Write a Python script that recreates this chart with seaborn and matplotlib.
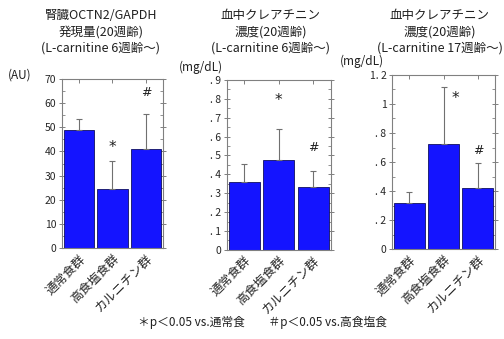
import matplotlib
matplotlib.use("Agg")
import matplotlib.pyplot as plt
import seaborn as sns
import numpy as np
import pandas as pd

sns.set_theme(style="white")
plt.rcParams['font.family'] = ['Noto Sans CJK JP', 'DejaVu Sans']

categories = ["通常食群", "高食塩食群", "カルニチン群"]

titles = [
    "腎臓OCTN2/GAPDH\n発現量(20週齢)\n(L-carnitine 6週齢～)",
    "血中クレアチニン\n濃度(20週齢)\n(L-carnitine 6週齢～)",
    "血中クレアチニン\n濃度(20週齢)\n(L-carnitine 17週齢～)",
]
units = ["(AU)", "(mg/dL)", "(mg/dL)"]

octn2_mean = [49.0, 24.5, 41.0]
octn2_err = [4.5, 11.5, 14.5]
crea6_mean = [0.36, 0.475, 0.335]
crea6_err = [0.095, 0.165, 0.085]
crea17_mean = [0.32, 0.725, 0.42]
crea17_err = [0.075, 0.39, 0.175]

star_labels = ["*", "#"]
octn2_marks = [41.5, 64.5]
crea6_marks = [0.79, 0.54]
crea17_marks = [1.04, 0.68]

octn2_ticks = [0, 10, 20, 30, 40, 50, 60, 70]
octn2_ticklabels = ["0", "10", "20", "30", "40", "50", "60", "70"]
crea6_ticks = [0, .1, .2, .3, .4, .5, .6, .7, .8, .9]
crea6_ticklabels = ["0", ". 1", ". 2", ". 3", ". 4", ". 5", ". 6", ". 7", ". 8", ". 9"]
crea17_ticks = [0, .2, .4, .6, .8, 1.0, 1.2]
crea17_ticklabels = ["0", ". 2", ". 4", ". 6", ". 8", "1", "1. 2"]

footnote = "＊p＜0.05 vs.通常食　　＃p＜0.05 vs.高食塩食"

panels = [
    dict(mean=octn2_mean, err=octn2_err, marks=octn2_marks, ticks=octn2_ticks,
         labels=octn2_ticklabels, ymax=70, minor=5, star_dx=0.0,
         pos=[0.123, 0.268, 0.200, 0.499], unit_xy=(0.015, 0.778), title_x=0.200),
    dict(mean=crea6_mean, err=crea6_err, marks=crea6_marks, ticks=crea6_ticks,
         labels=crea6_ticklabels, ymax=0.9, minor=0.05, star_dx=0.0,
         pos=[0.450, 0.263, 0.206, 0.501], unit_xy=(0.355, 0.800), title_x=0.537),
    dict(mean=crea17_mean, err=crea17_err, marks=crea17_marks, ticks=crea17_ticks,
         labels=crea17_ticklabels, ymax=1.2, minor=0.1, star_dx=0.35,
         pos=[0.778, 0.265, 0.204, 0.514], unit_xy=(0.674, 0.818), title_x=0.872),
]

fig = plt.figure(figsize=(5.04, 3.39), dpi=100)
bar_color = "#1414ff"
spine_color = "#808080"

for i, p in enumerate(panels):
    ax = fig.add_axes(p["pos"])
    df = pd.DataFrame({"group": categories, "value": p["mean"]})
    sns.barplot(data=df, x="group", y="value", ax=ax, color=bar_color,
                saturation=1, width=0.9, edgecolor="#101060", linewidth=0.6,
                errorbar=None)
    x = np.arange(len(categories))
    ax.errorbar(x, p["mean"], yerr=[np.zeros(3), p["err"]], fmt="none",
                ecolor="#707070", elinewidth=0.8, capsize=2, capthick=0.8, zorder=1)
    ax.text(1 + p["star_dx"], p["marks"][0], star_labels[0], ha="center", va="center",
            fontsize=11, color="#202020", family="DejaVu Sans")
    ax.text(2, p["marks"][1], star_labels[1], ha="center", va="center",
            fontsize=9, color="#202020", family="DejaVu Sans")
    ax.set_ylim(0, p["ymax"])
    ax.set_xlim(-0.5, 2.5)
    ax.set_yticks(p["ticks"])
    ax.set_yticklabels(p["labels"], fontsize=7.5)
    ax.set_yticks(np.arange(0, p["ymax"] + 1e-9, p["minor"]), minor=True)
    ax.set_xticks(x)
    ax.set_xticklabels(categories, rotation=45, ha="right", rotation_mode="anchor",
                       fontsize=9)
    ax.set_xlabel("")
    ax.set_ylabel("")
    for s in ax.spines.values():
        s.set_visible(True)
        s.set_color(spine_color)
        s.set_linewidth(0.8)
    ax.tick_params(axis="y", which="major", direction="inout", length=4, width=0.7,
                   color=spine_color, left=True, right=True, pad=2)
    ax.tick_params(axis="y", which="minor", direction="in", length=2, width=0.6,
                   color=spine_color, left=True, right=True)
    ax.tick_params(axis="x", which="major", direction="in", length=3, width=0.7,
                   color=spine_color, bottom=True, top=True, pad=3)
    fig.text(p["title_x"], 0.972, titles[i], ha="center", va="top", fontsize=9,
             linespacing=1.3, color="#202020")
    fig.text(p["unit_xy"][0], p["unit_xy"][1], units[i], ha="left", va="center",
             fontsize=8.5, color="#202020")

fig.text(0.52, 0.048, footnote, ha="center", va="center", fontsize=8.5, color="#202020")

fig.savefig("out.png", dpi=100)
